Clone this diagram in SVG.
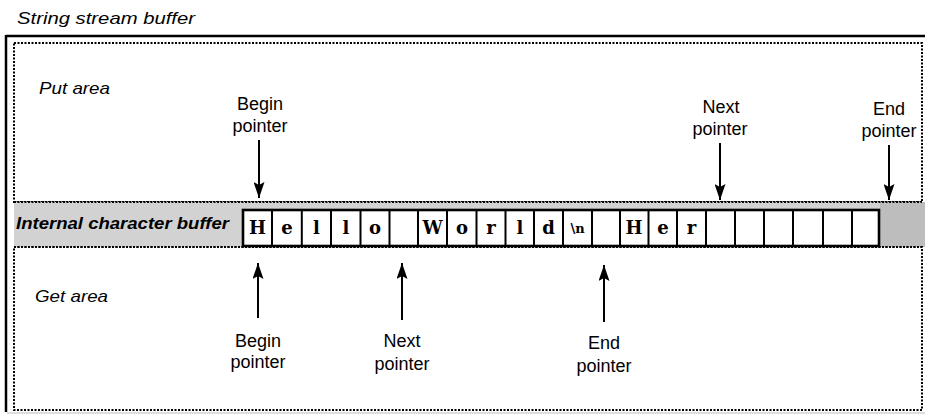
<svg xmlns="http://www.w3.org/2000/svg" width="925" height="416" viewBox="0 0 925 416">
<style>
.lbl{font-family:"Liberation Sans",Arial,sans-serif;font-size:18px;fill:#000;text-anchor:middle}
.ital{font-family:"Liberation Sans",Arial,sans-serif;font-size:17px;font-style:italic;fill:#000}
.bi{font-family:"Liberation Sans",Arial,sans-serif;font-size:17px;font-style:italic;font-weight:bold;fill:#000}
.dot{fill:none;stroke:#000;stroke-width:2;stroke-dasharray:2 1.5}
.ch{font-family:"DejaVu Serif","Liberation Serif",serif;font-weight:bold;font-size:18px;fill:#000;text-anchor:middle}
.arr{stroke:#000;stroke-width:2;fill:none;marker-end:url(#ah)}
</style>
<defs>
<marker id="ah" viewBox="0 0 16 11" refX="16" refY="5.5" markerWidth="16" markerHeight="11" markerUnits="userSpaceOnUse" orient="auto">
<path d="M0,0 L16,5.5 L0,11 L3,5.5 z" fill="#000"/>
</marker>
</defs>
<rect width="925" height="416" fill="#fff"/>
<text class="ital" x="17" y="24" textLength="178" lengthAdjust="spacingAndGlyphs">String stream buffer</text>
<g id="frame">
<line x1="6" y1="36" x2="925" y2="36" stroke="#000" stroke-width="2.5"/>
<line x1="6" y1="35" x2="6" y2="412" stroke="#000" stroke-width="2.5"/>
<line x1="7" y1="413" x2="925" y2="413" stroke="#bbb" stroke-width="1"/>
</g>
<g id="put-area">
<rect class="dot" x="14" y="43" width="908" height="159"/>
<text class="ital" x="39" y="94" textLength="71" lengthAdjust="spacingAndGlyphs">Put area</text>
</g>
<g id="internal-buffer">
<rect x="14" y="202" width="911" height="45" fill="#d2d2d2"/>
<rect x="880" y="202" width="45" height="45" fill="#bdbdbd"/>
<line class="dot" x1="14" y1="202" x2="922" y2="202"/>
<line class="dot" x1="14" y1="247" x2="922" y2="247"/>
<text class="bi" x="16" y="229" textLength="213" lengthAdjust="spacingAndGlyphs">Internal character buffer</text>
<rect x="243" y="210" width="636" height="36" fill="#fff" stroke="#000" stroke-width="2.6"/>
<g stroke="#000" stroke-width="2">
<line x1="272" y1="210" x2="272" y2="246"/><line x1="301.8" y1="210" x2="301.8" y2="246"/><line x1="331" y1="210" x2="331" y2="246"/><line x1="360.5" y1="210" x2="360.5" y2="246"/><line x1="389.5" y1="210" x2="389.5" y2="246"/><line x1="418" y1="210" x2="418" y2="246"/><line x1="447" y1="210" x2="447" y2="246"/><line x1="476.5" y1="210" x2="476.5" y2="246"/><line x1="505.5" y1="210" x2="505.5" y2="246"/><line x1="534" y1="210" x2="534" y2="246"/><line x1="563" y1="210" x2="563" y2="246"/><line x1="592" y1="210" x2="592" y2="246"/><line x1="620" y1="210" x2="620" y2="246"/><line x1="648.5" y1="210" x2="648.5" y2="246"/><line x1="677" y1="210" x2="677" y2="246"/><line x1="706" y1="210" x2="706" y2="246"/><line x1="735" y1="210" x2="735" y2="246"/><line x1="764" y1="210" x2="764" y2="246"/><line x1="793" y1="210" x2="793" y2="246"/><line x1="823" y1="210" x2="823" y2="246"/><line x1="852" y1="210" x2="852" y2="246"/>
</g>
<text class="ch" x="257.5" y="234">H</text>
<text class="ch" x="287" y="234">e</text>
<text class="ch" x="316.5" y="234">l</text>
<text class="ch" x="346" y="234">l</text>
<text class="ch" x="375" y="234">o</text>
<text class="ch" x="432.5" y="234">W</text>
<text class="ch" x="462" y="234">o</text>
<text class="ch" x="491" y="234">r</text>
<text class="ch" x="520" y="234">l</text>
<text class="ch" x="548.5" y="234">d</text>
<text class="ch" x="577.5" y="233" style="font-size:13px">\n</text>
<text class="ch" x="634" y="234">H</text>
<text class="ch" x="663" y="234">e</text>
<text class="ch" x="691.5" y="234">r</text>
</g>
<g id="get-area">
<rect class="dot" x="14" y="247" width="908" height="163"/>
<text class="ital" x="35" y="302" textLength="73" lengthAdjust="spacingAndGlyphs">Get area</text>
</g>
<g id="put-begin-pointer">
<text class="lbl" x="260" y="110">Begin</text>
<text class="lbl" x="260" y="132">pointer</text>
</g>
<g id="put-next-pointer">
<text class="lbl" x="721" y="113">Next</text>
<text class="lbl" x="720" y="135">pointer</text>
</g>
<g id="put-end-pointer">
<text class="lbl" x="889" y="115">End</text>
<text class="lbl" x="889" y="137">pointer</text>
</g>
<g id="get-begin-pointer">
<text class="lbl" x="258" y="347">Begin</text>
<text class="lbl" x="258" y="368">pointer</text>
</g>
<g id="get-next-pointer">
<text class="lbl" x="402" y="347">Next</text>
<text class="lbl" x="402" y="370">pointer</text>
</g>
<g id="get-end-pointer">
<text class="lbl" x="604" y="349">End</text>
<text class="lbl" x="604" y="372">pointer</text>
</g>
<g id="connectors">
<line class="arr" x1="259" y1="140" x2="259" y2="198"/>
<line class="arr" x1="720" y1="143" x2="720" y2="200"/>
<line class="arr" x1="889" y1="145" x2="889" y2="200"/>
<line class="arr" x1="258" y1="318" x2="258" y2="263"/>
<line class="arr" x1="402" y1="320" x2="402" y2="263"/>
<line class="arr" x1="604" y1="322" x2="604" y2="265"/>
</g>
</svg>
